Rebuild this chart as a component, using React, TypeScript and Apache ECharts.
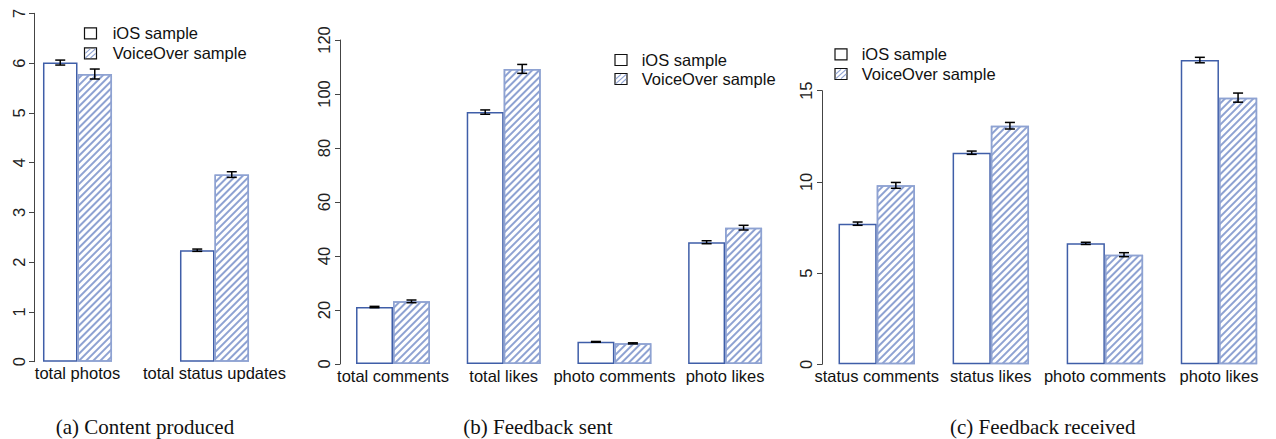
import { useEffect, useRef } from "react";
import * as echarts from "echarts";

// ---------- data ----------
const catsA = ["total photos", "total status updates"];
const iosA = [6.01, 2.24];
const iosErrA = [0.05, 0.023];
const voA = [5.78, 3.76];
const voErrA = [0.1, 0.057];

const catsB = ["total comments", "total likes", "photo comments", "photo likes"];
const iosB = [21.1, 93.3, 8.2, 45.1];
const iosErrB = [0.25, 0.8, 0.15, 0.55];
const voB = [23.2, 109.3, 7.65, 50.5];
const voErrB = [0.5, 1.65, 0.2, 0.87];

const catsC = ["status comments", "status likes", "photo comments", "photo likes"];
const iosC = [7.71, 11.6, 6.63, 16.68];
const iosErrC = [0.09, 0.09, 0.06, 0.15];
const voC = [9.81, 13.08, 6.01, 14.62];
const voErrC = [0.16, 0.18, 0.11, 0.25];

const seriesNames = ["iOS sample", "VoiceOver sample"];
const captions = ["(a) Content produced", "(b) Feedback sent", "(c) Feedback received"];

// ---------- style ----------
const IOS_BORDER = "#3f5ea8";
const VO_COLOR = "#8ea2d2";
const AXIS_COLOR = "#444";
const SANS = "'Liberation Sans', Arial, sans-serif";
const SERIF = "'Liberation Serif', 'Times New Roman', serif";
const FS = 16.5;

type Layout = {
  left: number; top: number; width: number; height: number;
  gap: number; axisX: number; max: number; interval: number; labelMargin: number;
};

const layouts: Layout[] = [
  { left: 9, top: 13.3, width: 274, height: 348.4, gap: 0.496, axisX: 34, max: 7, interval: 1, labelMargin: 7 },
  { left: 337.65, top: 40, width: 442.8, height: 324, gap: 0.332, axisX: 340, max: 120, interval: 20, labelMargin: 8 },
  { left: 819.7, top: 90.7, width: 475.2, height: 273.6, gap: 0.33, axisX: 822, max: 15, interval: 5, labelMargin: 8 },
];

const panels = [
  { cats: catsA, ios: iosA, iosErr: iosErrA, vo: voA, voErr: voErrA },
  { cats: catsB, ios: iosB, iosErr: iosErrB, vo: voB, voErr: voErrB },
  { cats: catsC, ios: iosC, iosErr: iosErrC, vo: voC, voErr: voErrC },
];

const legendPos = [
  { sqX: 84.5, textX: 112.7, y1: 33.3, y2: 53.3 },
  { sqX: 615, textX: 641.7, y1: 60, y2: 79 },
  { sqX: 835, textX: 861.7, y1: 54.3, y2: 74 },
];
const captionX = [55.7, 463.3, 950];

function buildOption() {
  const grid: any[] = [];
  const xAxis: any[] = [];
  const yAxis: any[] = [];
  const series: any[] = [];
  const graphic: any[] = [];

  panels.forEach((p, k) => {
    const L = layouts[k];
    grid.push({ left: L.left, top: L.top, width: L.width, height: L.height, containLabel: false });
    xAxis.push({
      type: "category",
      gridIndex: k,
      data: p.cats,
      axisLine: { show: false },
      axisTick: { show: false },
      axisLabel: { interval: 0, fontSize: FS, fontFamily: SANS, color: "#111", margin: 3 },
      splitLine: { show: false },
    });
    yAxis.push({
      type: "value",
      gridIndex: k,
      min: 0,
      max: L.max,
      interval: L.interval,
      offset: L.left - L.axisX,
      axisLine: { show: true, lineStyle: { color: AXIS_COLOR, width: 1 } },
      axisTick: { show: true, length: 5, lineStyle: { color: AXIS_COLOR, width: 1 } },
      axisLabel: { rotate: 90, fontSize: FS, fontFamily: SANS, color: "#222", margin: L.labelMargin },
      splitLine: { show: false },
    });
    const gapStr = (L.gap * 100).toFixed(1) + "%";
    series.push({
      type: "bar",
      name: seriesNames[0],
      xAxisIndex: k,
      yAxisIndex: k,
      data: p.ios,
      barGap: "0%",
      barCategoryGap: gapStr,
      clip: false,
      itemStyle: { color: "#ffffff", borderColor: IOS_BORDER, borderWidth: 1.5 },
      emphasis: { disabled: true },
    });
    series.push({
      type: "bar",
      name: seriesNames[1],
      xAxisIndex: k,
      yAxisIndex: k,
      data: p.vo,
      barGap: "0%",
      barCategoryGap: gapStr,
      clip: false,
      itemStyle: {
        color: "#ffffff",
        borderColor: VO_COLOR,
        borderWidth: 1.5,
        decal: {
          symbol: "rect",
          symbolSize: 1,
          dashArrayX: [1, 0],
          dashArrayY: [1.1, 2.9],
          rotation: -Math.PI / 4,
          color: VO_COLOR,
          backgroundColor: "#ffffff",
        },
      },
      emphasis: { disabled: true },
    });
    const gap = L.gap;
    series.push({
      type: "custom",
      xAxisIndex: k,
      yAxisIndex: k,
      clip: false,
      z: 5,
      encode: { x: 0, y: 1 },
      data: p.cats.map((_, i) => [i, p.ios[i], p.iosErr[i], p.vo[i], p.voErr[i]]),
      renderItem: (params: any, api: any) => {
        const i = api.value(0);
        const cx = api.coord([i, 0])[0];
        const band = api.size([1, 0])[0];
        const barW = (band * (1 - gap)) / 2;
        const children: any[] = [];
        const pairs = [
          [api.value(1), api.value(2), cx - barW / 2],
          [api.value(3), api.value(4), cx + barW / 2],
        ];
        const st = { stroke: "#000", lineWidth: 1.5 };
        for (const [v, e, x] of pairs) {
          const yTop = api.coord([i, v + e])[1];
          const yBot = api.coord([i, v - e])[1];
          children.push({ type: "line", shape: { x1: x, y1: yTop, x2: x, y2: yBot }, style: st });
          children.push({ type: "line", shape: { x1: x - 5, y1: yTop, x2: x + 5, y2: yTop }, style: st });
          children.push({ type: "line", shape: { x1: x - 5, y1: yBot, x2: x + 5, y2: yBot }, style: st });
        }
        return { type: "group", children };
      },
    });

    // legend
    const lp = legendPos[k];
    const w = 12, h = 11;
    const sq1y = lp.y1 - h / 2;
    const sq2y = lp.y2 - h / 2;
    graphic.push({
      type: "rect",
      shape: { x: lp.sqX, y: sq1y, width: w, height: h },
      style: { fill: "#fff", stroke: "#111", lineWidth: 1.2 },
    });
    graphic.push({
      type: "rect",
      shape: { x: lp.sqX, y: sq2y, width: w, height: h },
      style: { fill: "#fff", stroke: "#111", lineWidth: 1.2 },
    });
    const hs = { stroke: VO_COLOR, lineWidth: 1.1 };
    graphic.push({ type: "line", shape: { x1: lp.sqX + 0.8, y1: sq2y + h - 0.8, x2: lp.sqX + w - 0.8, y2: sq2y + 0.8 }, style: hs });
    graphic.push({ type: "line", shape: { x1: lp.sqX + 0.8, y1: sq2y + h / 2, x2: lp.sqX + w / 2, y2: sq2y + 0.8 }, style: hs });
    graphic.push({ type: "line", shape: { x1: lp.sqX + w / 2, y1: sq2y + h - 0.8, x2: lp.sqX + w - 0.8, y2: sq2y + h / 2 }, style: hs });
    graphic.push({
      type: "text",
      x: lp.textX,
      y: lp.y1,
      style: { text: seriesNames[0], font: `${FS}px ${SANS}`, fill: "#111", textAlign: "left", textVerticalAlign: "middle" },
    });
    graphic.push({
      type: "text",
      x: lp.textX,
      y: lp.y2,
      style: { text: seriesNames[1], font: `${FS}px ${SANS}`, fill: "#111", textAlign: "left", textVerticalAlign: "middle" },
    });
    graphic.push({
      type: "text",
      x: captionX[k],
      y: 427,
      style: { text: captions[k], font: `21px ${SERIF}`, fill: "#111", textAlign: "left", textVerticalAlign: "middle" },
    });
  });

  return {
    animation: false,
    backgroundColor: "#ffffff",
    grid,
    xAxis,
    yAxis,
    series,
    graphic,
  };
}

export default function App() {
  const ref = useRef<HTMLDivElement>(null);
  useEffect(() => {
    if (!ref.current) return;
    const chart = echarts.init(ref.current, null, { renderer: "svg" });
    chart.setOption(buildOption() as any);
    return () => chart.dispose();
  }, []);
  return (
    <div
      ref={ref}
      style={{ position: "fixed", left: 0, top: 0, width: 1276, height: 439, background: "#fff" }}
    />
  );
}
